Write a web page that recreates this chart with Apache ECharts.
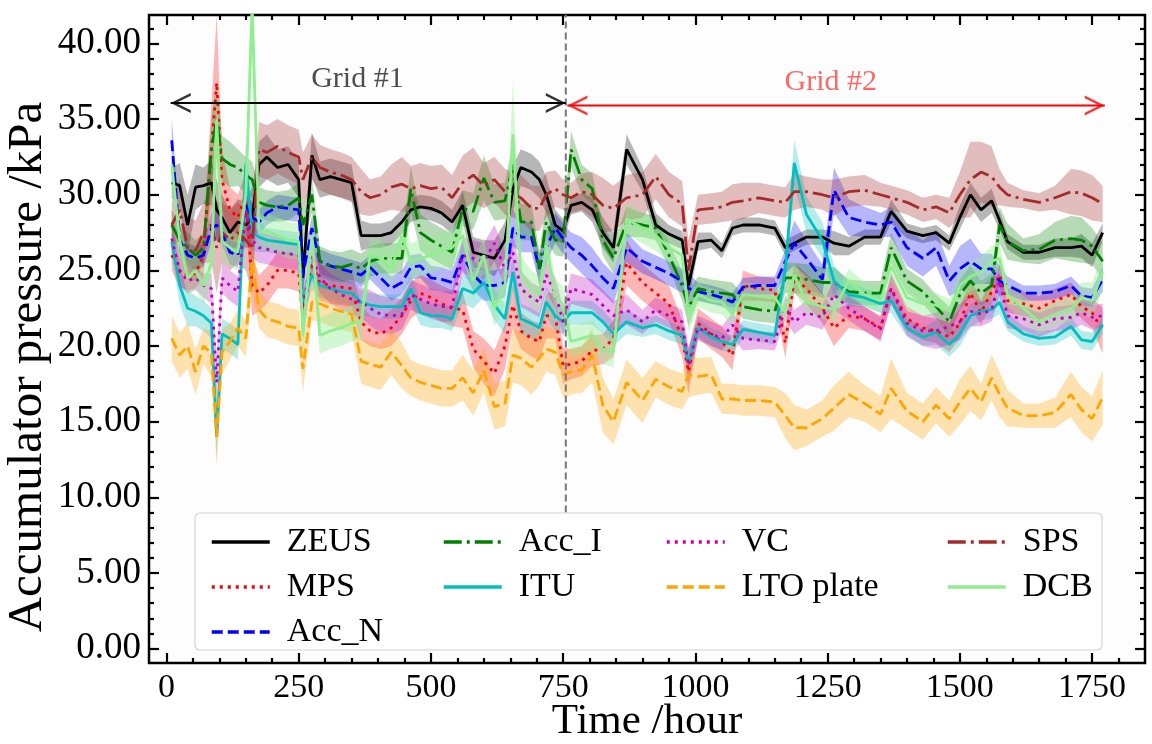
<!DOCTYPE html>
<html>
<head>
<meta charset="utf-8">
<title>Accumulator pressure</title>
<script src="https://cdn.jsdelivr.net/npm/echarts@6/dist/echarts.min.js"></script>
<style>
  html, body { margin: 0; padding: 0; background: #fff; }
  #chart { width: 1152px; height: 744px; }
</style>
</head>
<body>
<div id="chart"></div>
<script>
// sample times (hours), rows of 10
const hours = [
  10, 25, 40, 55, 70, 85, 95, 105, 120, 135,
  150, 162, 175, 190, 210, 230, 250, 258, 275, 290,
  310, 330, 350, 368, 385, 405, 425, 445, 462, 480,
  500, 520, 540, 560, 580, 600, 620, 640, 655, 670,
  690, 705, 718, 735, 750, 765, 785, 805, 825, 845,
  870, 900, 925, 950, 975, 987, 1005, 1030, 1050, 1070,
  1090, 1120, 1150, 1170, 1187, 1210, 1240, 1262, 1290, 1320,
  1350, 1370, 1400, 1430, 1455, 1480, 1500, 1520, 1540, 1560,
  1575, 1590, 1620, 1650, 1680, 1710, 1730, 1750, 1770
];

const zeus = [
  30.8, 30.6, 28.0, 30.5, 30.6, 30.8, 29.0, 28.5, 27.5, 28.2,
  28.0, 28.5, 32.0, 32.5, 31.8, 32.0, 31.0, 24.5, 32.6, 31.0,
  31.2, 31.0, 30.8, 27.3, 27.3, 27.3, 27.5, 28.2, 29.0, 29.2,
  29.1, 28.8, 28.2, 29.3, 26.2, 26.0, 25.8, 27.0, 30.4, 31.8,
  31.5, 31.0, 30.0, 28.0, 27.6, 29.3, 29.5, 29.0, 27.5, 26.5,
  33.0, 31.0, 28.0, 27.4, 27.0, 24.0, 26.9, 27.0, 26.3, 27.8,
  28.0, 28.0, 27.8, 26.5, 26.8, 27.2, 27.2, 26.8, 26.6, 27.2,
  27.2, 28.9, 27.6, 27.3, 27.5, 26.8, 28.5, 30.0, 29.0, 29.6,
  28.3, 26.9, 26.2, 26.2, 26.5, 26.5, 26.6, 26.0, 27.5
];
const zeusSpread = [
  1.0, 1.5, 2.0, 1.5, 1.2, 1.5, 2.0, 1.5, 1.5, 1.5,
  1.5, 2.0, 1.5, 1.5, 1.2, 1.2, 1.2, 1.5, 1.5, 1.2,
  1.2, 1.2, 1.2, 1.0, 0.8, 0.8, 0.8, 0.8, 0.8, 0.8,
  0.8, 0.8, 0.8, 1.0, 1.0, 1.0, 1.2, 1.2, 1.5, 1.2,
  1.2, 1.2, 1.2, 1.0, 0.8, 0.6, 0.6, 0.8, 1.0, 1.0,
  1.0, 0.8, 0.8, 0.6, 0.6, 1.0, 0.6, 0.5, 0.5, 0.5,
  0.5, 0.5, 0.5, 0.5, 0.5, 0.5, 0.5, 0.8, 0.6, 0.5,
  0.5, 0.8, 0.5, 0.5, 0.5, 0.5, 0.8, 0.8, 0.8, 0.8,
  0.6, 0.5, 0.5, 0.5, 0.6, 0.6, 0.8, 0.8, 0.6
];

const mps = [
  26.0, 24.9, 24.7, 24.8, 26.0, 33.0, 37.4, 31.0, 29.0, 28.5,
  30.0, 24.0, 23.5, 24.0, 25.0, 25.0, 24.8, 21.8, 25.5, 24.2,
  24.0, 23.9, 23.8, 21.6, 21.0, 20.8, 21.2, 22.0, 23.0, 23.5,
  23.2, 22.8, 22.5, 22.4, 19.8, 19.0, 18.2, 20.0, 22.7, 21.0,
  20.5, 20.3, 22.0, 22.0, 18.7, 18.8, 19.0, 19.7, 19.8, 20.5,
  25.5, 24.2, 23.5, 22.8, 20.5, 18.3, 21.5, 20.8, 20.3, 19.4,
  24.0, 23.8, 23.7, 20.2, 24.5, 23.8, 22.5, 21.2, 22.0, 21.8,
  21.2, 23.8, 21.8, 21.2, 21.0, 20.6, 21.5, 23.5, 22.2, 23.6,
  24.7, 23.0, 22.8, 22.5, 23.0, 23.4, 22.6, 22.2, 21.0
];
const mpsSpread = [
  1.0, 1.0, 1.0, 1.0, 1.5, 3.0, 4.5, 2.0, 1.5, 1.5,
  1.5, 2.0, 1.2, 1.2, 1.2, 1.2, 1.2, 1.5, 1.2, 1.2,
  1.2, 1.2, 1.2, 1.2, 1.0, 1.0, 1.2, 1.2, 1.2, 1.2,
  1.2, 1.2, 1.2, 1.2, 1.2, 1.5, 1.5, 1.5, 1.5, 1.2,
  1.2, 1.2, 1.5, 1.5, 1.2, 1.0, 1.0, 1.0, 1.0, 1.2,
  1.5, 1.2, 1.2, 1.2, 1.2, 1.5, 1.0, 1.0, 1.0, 1.0,
  1.0, 0.8, 0.8, 1.0, 1.0, 1.0, 1.0, 1.2, 0.8, 0.8,
  0.8, 1.0, 0.8, 0.8, 0.8, 1.0, 1.0, 1.0, 0.8, 0.8,
  0.8, 0.8, 0.8, 0.8, 0.8, 0.8, 0.8, 1.0, 1.5
];

const accN = [
  33.6, 27.0, 26.0, 25.8, 26.0, 27.8, 28.0, 27.5, 26.2, 26.0,
  29.3, 28.5, 28.2, 28.8, 29.2, 29.1, 29.0, 24.7, 27.8, 25.6,
  25.3, 25.1, 24.9, 24.7, 25.2, 24.5, 23.8, 24.2, 25.2, 25.3,
  24.5, 24.4, 24.2, 26.0, 24.7, 24.0, 24.0, 24.2, 27.8, 27.2,
  27.2, 25.1, 26.5, 27.8, 27.1, 26.5, 26.0, 25.3, 24.5, 23.8,
  26.5, 25.6, 25.2, 24.8, 24.3, 23.8, 23.6, 23.4, 23.2, 22.9,
  23.9, 24.0, 24.0, 25.6, 26.8, 25.8, 24.4, 30.3, 28.5, 28.2,
  28.0, 28.2, 26.5, 25.8, 26.5, 24.3, 25.1, 25.6, 25.1, 25.1,
  24.3, 24.0, 23.5, 23.5, 23.6, 24.0, 23.3, 23.2, 24.4
];
const accNSpread = [
  1.5, 1.0, 0.8, 0.8, 0.8, 1.0, 1.0, 0.8, 0.8, 0.8,
  1.0, 1.0, 0.8, 0.8, 0.8, 0.8, 0.8, 1.0, 0.8, 0.8,
  0.8, 0.8, 0.8, 0.8, 0.8, 0.8, 0.8, 0.8, 0.8, 0.8,
  0.8, 0.8, 0.8, 1.0, 1.0, 1.0, 1.0, 1.0, 1.2, 1.0,
  1.0, 1.0, 1.0, 1.0, 1.0, 1.0, 1.2, 1.2, 1.0, 1.0,
  1.0, 0.8, 0.8, 0.8, 0.8, 1.0, 0.6, 0.6, 0.6, 0.6,
  0.6, 0.6, 0.6, 0.8, 1.5, 1.2, 1.0, 1.5, 1.2, 1.0,
  0.8, 1.0, 1.2, 1.2, 1.2, 1.0, 1.5, 1.5, 1.0, 1.0,
  1.0, 0.6, 0.5, 0.5, 0.5, 0.6, 0.6, 0.6, 0.8
];

const accI = [
  28.0, 27.0, 26.5, 26.0, 26.5, 33.0, 35.0, 32.4, 32.0, 31.8,
  31.3, 31.0, 29.5, 29.3, 29.2, 29.3, 29.8, 28.0, 30.0, 25.6,
  25.3, 25.2, 25.4, 25.1, 25.6, 25.8, 25.8, 25.8, 30.4, 27.5,
  27.0, 26.6, 26.2, 29.1, 28.9, 31.1, 29.5, 29.6, 32.0, 28.2,
  28.2, 25.1, 28.2, 27.0, 26.9, 33.0, 31.0, 30.4, 27.0, 25.8,
  28.2, 28.0, 27.8, 26.0, 24.0, 22.5, 23.8, 23.6, 23.5, 23.4,
  22.6, 22.4, 22.3, 24.5, 24.5, 24.4, 24.2, 24.2, 23.6, 23.5,
  23.5, 26.5, 24.3, 23.6, 22.6, 21.6, 23.4, 24.3, 23.5, 24.0,
  28.0, 26.9, 26.3, 26.4, 27.0, 27.1, 27.0, 26.6, 25.6
];
const accISpread = [
  1.0, 1.0, 1.0, 1.0, 1.0, 2.0, 2.5, 1.5, 1.5, 1.2,
  1.2, 1.2, 1.0, 1.0, 1.0, 1.0, 1.0, 1.2, 1.2, 1.0,
  1.0, 1.0, 1.0, 1.0, 1.0, 1.0, 1.0, 1.0, 1.5, 1.2,
  1.2, 1.2, 1.2, 1.2, 1.2, 1.5, 1.2, 1.2, 1.5, 1.2,
  1.2, 1.2, 1.2, 1.0, 1.0, 1.2, 1.0, 1.0, 1.0, 1.0,
  1.0, 0.8, 0.8, 0.8, 1.0, 1.2, 0.8, 0.8, 0.8, 0.8,
  0.8, 0.8, 0.8, 1.0, 1.0, 1.0, 1.0, 1.0, 0.8, 0.8,
  0.8, 1.0, 0.8, 0.8, 0.8, 1.0, 1.0, 1.0, 0.8, 0.8,
  1.2, 1.2, 0.8, 1.0, 1.2, 1.5, 1.5, 1.2, 1.2
];

const itu = [
  26.9, 24.0, 22.5, 22.3, 22.0, 21.5, 14.0, 20.8, 20.5, 20.1,
  32.0, 27.5, 27.2, 27.0, 26.9, 26.8, 26.7, 22.9, 24.7, 24.0,
  23.8, 23.6, 23.5, 22.9, 22.7, 22.6, 22.6, 22.6, 23.8, 22.2,
  22.0, 22.0, 21.8, 23.8, 23.5, 24.2, 22.7, 21.8, 24.9, 21.8,
  21.5, 21.2, 22.9, 22.0, 21.6, 22.2, 22.2, 22.2, 21.6, 20.8,
  21.6, 21.2, 21.4, 21.0, 20.7, 18.9, 21.2, 20.6, 20.3, 20.1,
  21.1, 20.9, 20.7, 25.1, 32.1, 28.7, 27.0, 24.3, 23.4, 23.2,
  22.8, 23.0, 21.2, 20.6, 20.9, 20.1, 20.8, 22.0, 22.3, 22.4,
  22.9, 21.6, 20.8, 20.5, 20.6, 21.3, 20.4, 20.3, 21.4
];
const ituSpread = [
  1.0, 1.2, 1.2, 1.0, 1.0, 1.0, 1.5, 1.0, 1.0, 1.0,
  1.5, 1.2, 1.0, 0.8, 0.8, 0.8, 0.8, 1.0, 1.0, 0.8,
  0.8, 0.8, 0.8, 0.8, 0.8, 0.8, 0.8, 0.8, 1.0, 0.8,
  0.8, 0.8, 0.8, 1.0, 1.0, 1.0, 1.0, 1.0, 1.2, 1.0,
  1.0, 1.0, 1.0, 1.0, 0.8, 0.8, 0.8, 0.8, 0.8, 0.8,
  0.8, 0.6, 0.6, 0.6, 0.6, 1.0, 0.6, 0.6, 0.6, 0.6,
  0.6, 0.6, 0.6, 1.0, 1.5, 1.2, 1.2, 1.0, 0.8, 0.6,
  0.6, 0.8, 0.6, 0.6, 0.8, 0.8, 0.8, 0.8, 0.6, 0.6,
  0.8, 0.6, 0.5, 0.5, 0.5, 0.6, 0.6, 0.6, 0.6
];

const vc = [
  27.1, 25.0, 24.3, 24.5, 24.0, 23.8, 17.6, 24.5, 24.0, 23.6,
  29.0, 27.0, 26.5, 26.4, 26.2, 26.1, 26.0, 22.5, 26.0, 24.5,
  23.8, 23.4, 23.1, 22.9, 22.5, 22.1, 22.0, 22.1, 23.4, 23.1,
  22.8, 22.6, 22.6, 26.0, 25.8, 25.6, 26.8, 25.1, 26.2, 23.8,
  23.2, 22.9, 24.7, 23.5, 21.6, 23.8, 23.6, 23.4, 22.7, 22.0,
  22.4, 21.6, 22.4, 22.0, 21.6, 18.7, 21.2, 20.8, 20.5, 21.4,
  20.5, 20.4, 20.3, 22.5, 21.6, 22.2, 21.9, 23.4, 22.5, 21.8,
  21.1, 23.8, 21.5, 21.0, 21.0, 21.3, 21.6, 22.3, 22.1, 22.4,
  24.3, 22.0, 21.8, 21.4, 21.8, 21.9, 22.2, 21.9, 22.0
];
const vcSpread = [
  1.0, 1.0, 0.8, 0.8, 0.8, 1.0, 1.5, 1.0, 1.0, 1.0,
  1.5, 1.2, 1.0, 1.0, 1.0, 1.0, 1.0, 1.0, 1.0, 1.0,
  1.0, 1.0, 1.0, 1.0, 1.2, 1.2, 1.2, 1.0, 1.0, 1.0,
  1.0, 1.0, 1.0, 1.2, 1.2, 1.2, 1.2, 1.2, 1.2, 1.2,
  1.0, 1.0, 1.0, 1.0, 1.0, 1.0, 1.0, 1.0, 1.0, 1.0,
  1.0, 0.8, 0.8, 0.8, 0.8, 1.2, 0.8, 0.8, 0.8, 0.8,
  0.8, 0.6, 0.6, 0.8, 0.8, 0.8, 0.8, 1.0, 0.8, 0.8,
  0.8, 1.0, 0.8, 1.0, 1.2, 1.2, 1.2, 1.0, 0.8, 0.8,
  1.0, 0.8, 0.8, 0.8, 0.8, 0.8, 0.8, 0.8, 0.8
];

const lto = [
  20.5, 19.4, 20.0, 18.3, 20.0, 19.5, 14.0, 19.6, 20.3, 21.2,
  20.5, 25.6, 22.4, 21.8, 21.6, 21.3, 21.2, 18.5, 22.9, 22.8,
  22.5, 22.3, 22.1, 19.0, 18.8, 18.6, 19.6, 18.7, 17.9, 17.6,
  17.4, 17.2, 17.2, 17.9, 16.9, 18.4, 16.0, 16.2, 19.4, 19.2,
  18.6, 19.2, 19.8, 19.6, 18.1, 18.3, 18.4, 19.4, 16.1, 15.0,
  17.6, 16.4, 17.8, 17.3, 17.0, 18.1, 18.0, 18.1, 16.5, 16.5,
  16.4, 16.4, 16.3, 15.4, 14.6, 14.6, 15.2, 15.9, 16.8, 16.2,
  15.5, 17.2, 15.7, 15.0, 16.1, 15.2, 16.3, 17.2, 16.3, 17.9,
  16.8, 15.9, 15.4, 15.4, 15.6, 16.8, 15.8, 15.2, 16.6
];
const ltoSpread = [
  1.5, 1.5, 1.5, 1.5, 1.2, 1.5, 2.0, 1.5, 1.2, 1.2,
  1.2, 2.0, 1.2, 1.2, 1.2, 1.2, 1.2, 1.5, 1.2, 1.2,
  1.2, 1.2, 1.2, 1.5, 1.5, 1.5, 1.5, 1.5, 1.2, 1.2,
  1.2, 1.2, 1.2, 1.5, 1.5, 1.5, 1.5, 1.5, 1.8, 1.8,
  1.8, 1.8, 1.5, 1.5, 1.5, 1.5, 1.5, 1.8, 1.8, 1.5,
  1.5, 1.5, 1.2, 1.2, 1.2, 1.5, 1.2, 1.2, 1.0, 1.0,
  1.0, 1.0, 1.0, 1.5, 1.5, 1.2, 1.2, 1.5, 1.5, 1.2,
  1.2, 2.0, 1.2, 1.2, 1.2, 1.2, 1.5, 1.5, 1.2, 1.5,
  1.5, 1.2, 0.8, 0.8, 1.0, 1.5, 1.5, 1.5, 1.8
];

const sps = [
  28.0, 29.0, 26.5, 26.3, 27.5, 28.0, 26.5, 27.5, 27.0, 27.5,
  27.0, 26.5, 33.0, 32.8, 33.2, 32.8, 32.5, 31.0, 32.5, 31.8,
  31.5, 31.3, 31.0, 30.2, 29.8, 30.0, 30.5, 30.7, 30.4, 30.6,
  30.4, 30.5, 29.8, 30.8, 31.3, 30.6, 31.0, 30.2, 30.0, 29.8,
  29.1, 29.1, 30.0, 30.4, 30.0, 29.8, 30.2, 30.0, 29.3, 29.1,
  29.8, 30.0, 31.2, 30.0, 29.4, 25.0, 29.0, 29.1, 29.2, 29.5,
  29.6, 29.8, 29.6, 29.5, 30.2, 30.2, 30.0, 29.8, 30.2, 30.3,
  30.0, 29.8, 29.5, 29.0, 29.2, 28.8, 30.0, 31.0, 31.5, 31.2,
  30.5, 30.0, 29.7, 29.5, 29.8, 30.2, 30.1, 29.8, 29.4
];
const spsSpread = [
  1.5, 2.0, 2.0, 2.0, 2.0, 2.5, 3.0, 2.0, 2.0, 2.0,
  2.0, 3.0, 1.8, 1.8, 1.8, 1.8, 1.8, 1.8, 1.5, 1.5,
  1.5, 1.5, 1.5, 1.5, 1.2, 1.2, 1.5, 1.8, 1.5, 1.5,
  1.5, 1.5, 1.5, 1.8, 1.8, 1.5, 1.5, 1.5, 1.5, 1.5,
  1.5, 1.5, 1.5, 1.2, 1.0, 1.0, 1.2, 1.5, 1.8, 1.5,
  1.5, 1.5, 1.5, 1.5, 1.5, 2.0, 1.0, 1.0, 1.0, 1.2,
  1.2, 1.0, 1.0, 1.0, 1.2, 1.0, 1.0, 1.2, 1.0, 1.0,
  0.8, 0.8, 0.8, 0.8, 0.8, 1.0, 1.5, 2.5, 2.0, 2.0,
  1.2, 0.8, 0.6, 0.6, 0.8, 1.5, 1.5, 1.5, 1.2
];

const dcb = [
  32.0, 27.0, 24.5, 25.0, 24.0, 25.5, 35.0, 26.9, 26.5, 26.2,
  30.0, 42.5, 27.5, 27.6, 27.3, 27.0, 26.9, 20.7, 27.3, 20.7,
  21.0, 21.2, 21.5, 21.6, 26.0, 25.8, 25.1, 27.3, 25.6, 25.8,
  26.0, 26.3, 26.5, 27.3, 24.3, 26.0, 22.5, 24.0, 34.0, 24.7,
  23.8, 23.4, 26.7, 23.3, 22.7, 20.3, 20.5, 20.7, 19.8, 19.6,
  28.4, 27.8, 27.3, 26.5, 26.0, 22.1, 23.4, 23.0, 22.9, 22.1,
  23.4, 23.3, 23.2, 22.2, 24.7, 22.9, 22.6, 22.4, 24.3, 23.4,
  23.0, 25.3, 23.2, 22.8, 22.7, 22.3, 24.0, 24.6, 24.9, 25.6,
  25.8, 23.4, 22.5, 21.6, 22.1, 22.4, 23.2, 23.0, 24.9
];
const dcbSpread = [
  1.5, 1.5, 1.2, 1.2, 1.2, 1.5, 3.0, 1.2, 1.2, 1.2,
  2.0, 3.0, 1.2, 1.2, 1.2, 1.2, 1.2, 1.5, 1.2, 1.2,
  1.2, 1.2, 1.2, 1.2, 1.2, 1.2, 1.2, 1.2, 1.2, 1.2,
  1.2, 1.2, 1.2, 1.2, 1.2, 1.2, 1.2, 1.2, 3.5, 1.2,
  1.2, 1.2, 1.2, 1.2, 1.2, 1.0, 1.0, 1.0, 1.0, 1.0,
  1.0, 1.0, 1.0, 1.0, 1.0, 1.2, 0.8, 0.8, 0.8, 0.8,
  0.8, 0.8, 0.8, 0.8, 1.0, 0.8, 0.8, 0.8, 0.8, 0.8,
  0.8, 1.0, 0.8, 0.8, 0.8, 0.8, 1.0, 1.0, 1.0, 1.0,
  1.0, 0.8, 0.8, 0.8, 0.8, 0.8, 1.0, 1.2, 1.2
];

// axis ticks
const xTicks = [0, 250, 500, 750, 1000, 1250, 1500, 1750];
const xMinorTicks = [50, 100, 150, 200, 300, 350, 400, 450, 550, 600, 650, 700,
  800, 850, 900, 950, 1050, 1100, 1150, 1200, 1300, 1350, 1400, 1450,
  1550, 1600, 1650, 1700, 1800];
const yTicks = [0, 5, 10, 15, 20, 25, 30, 35, 40];
const yMinorTicks = [1, 2, 3, 4, 6, 7, 8, 9, 11, 12, 13, 14, 16, 17, 18, 19,
  21, 22, 23, 24, 26, 27, 28, 29, 31, 32, 33, 34, 36, 37, 38, 39, 41];

// annotations (in data units)
const gridSplitHour = 755;
const gridSplitRange = [9.0, 41.9];
const gridOneArrow = [[8, 36.06], [755, 36.06]];
const gridTwoArrow = [[758, 35.9], [1774, 35.9]];
const gridLabels = [
  { text: 'Grid #1', at: [361, 37.65], color: '#222222' },
  { text: 'Grid #2', at: [1256, 37.45], color: '#ff4040' }
];

const FONT = "'Liberation Serif', 'Times New Roman', serif";
const X_MIN = -33, X_MAX = 1850, Y_MIN = -0.95, Y_MAX = 41.88;

const seriesInfo = [
  { name: 'ZEUS', values: zeus, spread: zeusSpread, color: '#000000', band: 'rgba(0,0,0,0.28)', dash: 'solid' },
  { name: 'MPS', values: mps, spread: mpsSpread, color: '#ff0000', band: 'rgba(255,0,0,0.28)', dash: [3, 5] },
  { name: 'Acc_N', values: accN, spread: accNSpread, color: '#0000ff', band: 'rgba(0,0,255,0.28)', dash: [11, 5] },
  { name: 'Acc_I', values: accI, spread: accISpread, color: '#008000', band: 'rgba(0,128,0,0.28)', dash: [18, 5, 3, 5] },
  { name: 'ITU', values: itu, spread: ituSpread, color: '#00bfbf', band: 'rgba(0,191,191,0.28)', dash: 'solid' },
  { name: 'VC', values: vc, spread: vcSpread, color: '#bf00bf', band: 'rgba(191,0,191,0.28)', dash: [3, 5] },
  { name: 'LTO plate', values: lto, spread: ltoSpread, color: '#ffa500', band: 'rgba(255,165,0,0.3)', dash: [11, 5] },
  { name: 'SPS', values: sps, spread: spsSpread, color: '#a52a2a', band: 'rgba(165,42,42,0.3)', dash: [18, 5, 3, 5] },
  { name: 'DCB', values: dcb, spread: dcbSpread, color: '#90ee90', band: 'rgba(144,238,144,0.4)', dash: 'solid' }
];

// min/max band as one polygon per series, placed through the axes with api.coord
function bandSeriesFor(s) {
  const lower = hours.map((h, i) => [h, s.values[i] - s.spread[i]]);
  const upper = hours.map((h, i) => [h, s.values[i] + s.spread[i]]);
  return {
    type: 'custom', name: s.name + ' band', silent: true, z: 1,
    data: hours.map((h, i) => [h, lower[i][1], upper[i][1]]),
    encode: { x: 0, y: [1, 2] },
    renderItem: (params, api) => {
      if (params.dataIndex !== 0) return null;
      const pts = upper.map(p => api.coord(p))
        .concat(lower.slice().reverse().map(p => api.coord(p)));
      const cs = params.coordSys;
      return {
        type: 'polygon',
        shape: { points: pts },
        style: { fill: s.band },
        clipPath: { type: 'rect', shape: { x: cs.x, y: cs.y, width: cs.width, height: cs.height } }
      };
    }
  };
}

const bandSeries = seriesInfo.map(bandSeriesFor);
const lineSeries = seriesInfo.map(s => ({
  name: s.name, type: 'line', z: 2, symbol: 'none',
  itemStyle: { color: s.color },
  lineStyle: { color: s.color, width: 2.8, type: s.dash },
  data: hours.map((h, i) => [h, s.values[i]])
}));

const chevron = 'path://M0,10 L5,0 L10,10 L8.6,10 L5,2.6 L1.4,10 Z';
// chevron tip sits half a symbol (10px ~ 19 h) from the symbol centre
const headShift = 19;
function arrowSeries(pts, color) {
  return [{
    type: 'line', silent: true, z: 3, symbol: 'none',
    lineStyle: { color: color, width: 2 },
    data: pts
  }, {
    type: 'scatter', silent: true, z: 3, symbol: chevron, symbolSize: [20, 20],
    itemStyle: { color: color },
    data: [
      { value: [pts[0][0] + headShift, pts[0][1]], symbolRotate: 90 },
      { value: [pts[1][0] - headShift, pts[1][1]], symbolRotate: -90 }
    ]
  }];
}

const annotationSeries = [
  {
    type: 'line', silent: true, z: 3, symbol: 'none',
    lineStyle: { color: '#777777', width: 2, type: [7, 4] },
    data: [[gridSplitHour, gridSplitRange[0]], [gridSplitHour, gridSplitRange[1]]]
  },
  ...arrowSeries(gridOneArrow, '#000000'),
  ...arrowSeries(gridTwoArrow, '#ff0000'),
  {
    type: 'scatter', silent: true, z: 3, symbolSize: 1,
    itemStyle: { color: 'transparent' },
    data: gridLabels.map(g => ({
      value: g.at,
      label: { show: true, position: 'inside', formatter: g.text, color: g.color,
               fontFamily: FONT, fontSize: 30 }
    }))
  }
];

function tickAxis(pos, values, len, withLabels) {
  return {
    type: 'value', position: pos,
    splitLine: { show: false },
    axisLine: { show: false, onZero: false },
    axisTick: { show: true, inside: true, length: len, customValues: values,
                lineStyle: { color: '#000', width: 2.2 } },
    axisLabel: { show: withLabels, customValues: values }
  };
}

const xAxes = [
  tickAxis('bottom', xTicks, 10, true),
  tickAxis('bottom', xMinorTicks, 5, false),
  tickAxis('top', xTicks, 10, false),
  tickAxis('top', xMinorTicks, 5, false)
].map(a => Object.assign(a, { min: X_MIN, max: X_MAX }));
Object.assign(xAxes[0].axisLabel, {
  fontFamily: FONT, fontSize: 34, color: '#000', margin: 8,
  formatter: v => String(v)
});
Object.assign(xAxes[0], {
  name: 'Time /hour', nameLocation: 'middle', nameGap: 37, nameMoveOverlap: false,
  nameTextStyle: { fontFamily: FONT, fontSize: 43, color: '#000' }
});

const yAxes = [
  tickAxis('left', yTicks, 10, true),
  tickAxis('left', yMinorTicks, 5, false),
  tickAxis('right', yTicks, 10, false),
  tickAxis('right', yMinorTicks, 5, false)
].map(a => Object.assign(a, { min: Y_MIN, max: Y_MAX }));
Object.assign(yAxes[0].axisLabel, {
  fontFamily: FONT, fontSize: 37, color: '#000', margin: 8,
  formatter: v => v.toFixed(2)
});
Object.assign(yAxes[0], {
  name: 'Accumulator pressure /kPa', nameLocation: 'middle', nameGap: 96, nameMoveOverlap: false,
  nameTextStyle: { fontFamily: FONT, fontSize: 49, color: '#000', padding: [0, 56, 0, 0] }
});

const legendColumns = [
  { names: ['ZEUS', 'MPS', 'Acc_N'], left: 205 },
  { names: ['Acc_I', 'ITU'], left: 437 },
  { names: ['VC', 'LTO plate'], left: 660 },
  { names: ['SPS', 'DCB'], left: 941 }
];
const legends = legendColumns.map(c => ({
  data: c.names, left: c.left, top: 520, orient: 'vertical',
  itemWidth: 58, itemHeight: 14, itemGap: 11, z: 6,
  selectedMode: false,
  itemStyle: { opacity: 0 },
  lineStyle: { width: 3.5 },
  textStyle: { fontFamily: FONT, fontSize: 34, color: '#000', lineHeight: 33, padding: [0, 0, 0, 12] }
}));

const chart = echarts.init(document.getElementById('chart'));
chart.setOption({
  animation: false,
  backgroundColor: '#ffffff',
  grid: {
    left: 149, right: 7, top: 15, bottom: 81,
    containLabel: false, outerBoundsMode: 'none',
    show: true, borderColor: '#000', borderWidth: 2.5, backgroundColor: '#fdfdfd'
  },
  xAxis: xAxes,
  yAxis: yAxes,
  legend: legends,
  graphic: [{
    type: 'rect', z: 5, silent: true,
    shape: { x: 195, y: 513, width: 907, height: 137, r: 5 },
    style: { fill: 'rgba(255,255,255,0.85)', stroke: '#d4d4d4', lineWidth: 1.2 }
  }],
  series: [...bandSeries, ...lineSeries, ...annotationSeries]
});
</script>
</body>
</html>
